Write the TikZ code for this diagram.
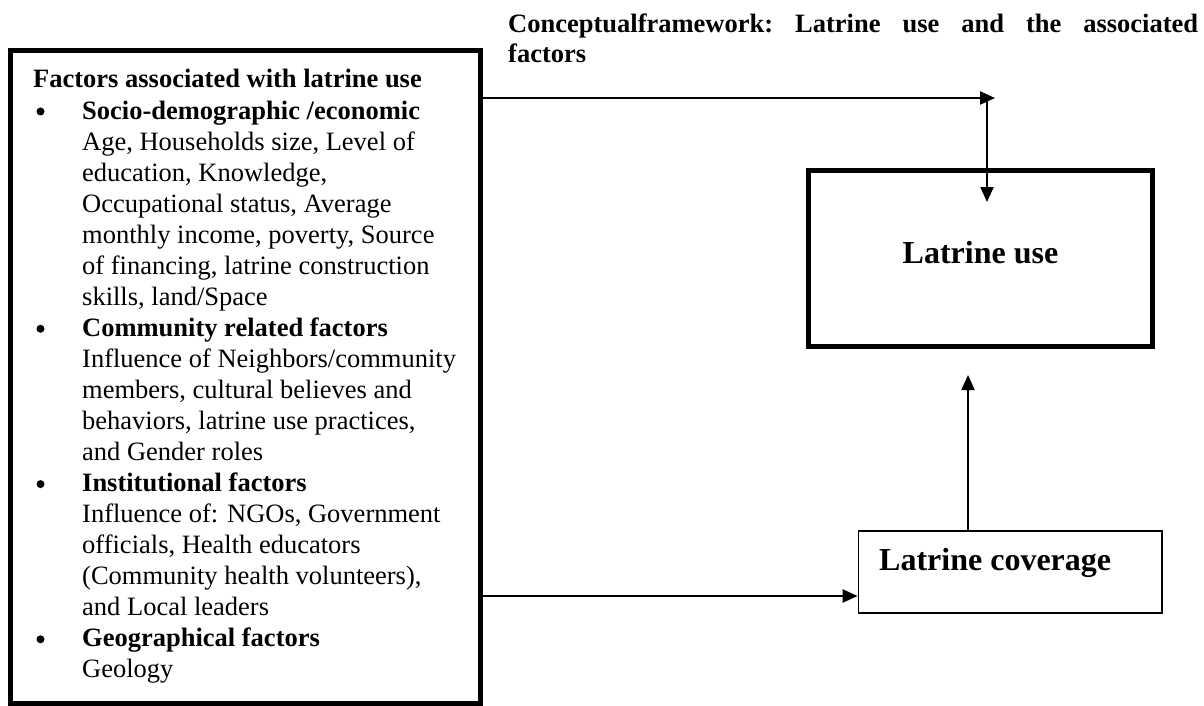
\documentclass[tikz,border=0pt]{standalone}
\usepackage{fontspec}
\setmainfont{Liberation Serif}
\usetikzlibrary{arrows.meta}
\newcommand\bulitem{\hskip49pt}
\newcommand\inditem{\hskip49pt}
\begin{document}
\begin{tikzpicture}[x=1pt,y=-1pt,
  thickbox/.style={draw=black, line width=5pt, inner sep=0pt},
  thinbox/.style={draw=black, line width=1.7pt, inner sep=0pt},
  conn/.style={draw=black, line width=2.2pt, -{Triangle[length=15pt,width=13pt]}},
  bodytext/.style={inner sep=0pt, anchor=base west},
  bulletdot/.style={fill=black},
  bigbold/.style={inner sep=0pt, font=\fontsize{32}{38}\selectfont\bfseries}]
\useasboundingbox (0,0) rectangle (1204,706);

% title
\node[bodytext] (title) at (508,33) {\vtop{\fontsize{26.5}{30}\selectfont\bfseries
  \baselineskip=30pt \lineskiplimit=-1000pt
  \hbox to 690pt{Conceptualframework:\hfill Latrine\hfill use\hfill and\hfill the\hfill associated}
  \hbox{factors}}};

% left box
\node[thickbox, minimum width=470pt, minimum height=652.5pt] (fbox) at (245.5,376.75) {};
\node[bodytext] (ftext) at (33,88) {\vtop{\fontsize{26.5}{31.05}\selectfont
  \baselineskip=31.05pt \lineskiplimit=-1000pt
  \hbox{\bfseries Factors associated with latrine use}
  \hbox{\bulitem\bfseries Socio-demographic /economic}
  \hbox{\inditem Age, Households size, Level of}
  \hbox{\inditem education, Knowledge,}
  \hbox{\inditem Occupational status, Average}
  \hbox{\inditem monthly income, poverty, Source}
  \hbox{\inditem of financing, latrine construction}
  \hbox{\inditem skills, land/Space}
  \hbox{\bulitem\bfseries Community related factors}
  \hbox{\inditem Influence of Neighbors/community}
  \hbox{\inditem members, cultural believes and}
  \hbox{\inditem behaviors, latrine use practices,}
  \hbox{\inditem and Gender roles}
  \hbox{\bulitem\bfseries Institutional factors}
  \hbox{\inditem Influence of: NGOs, Government}
  \hbox{\inditem officials, Health educators}
  \hbox{\inditem (Community health volunteers),}
  \hbox{\inditem and Local leaders}
  \hbox{\bulitem\bfseries Geographical factors}
  \hbox{\inditem Geology}}};

% bullets
\foreach \by in {111.5, 328.8, 484.1, 639.3}
  \fill[bulletdot] (40.5,\by) circle (4pt);

% latrine use box
\node[thickbox, minimum width=344pt, minimum height=176pt] (use) at (980.5,258.5) {};
\node[bigbold, anchor=base] (uselbl) at (980.5,263) {Latrine use};

% latrine coverage box
\node[thinbox, minimum width=303.5pt, minimum height=82pt] (cov) at (1010.25,572) {};
\node[bigbold, anchor=base west] (covlbl) at (879,570) {Latrine coverage};

% connectors
\coordinate (toptip) at (995,98);
\coordinate (topdrop) at (987,97);
\coordinate (usein) at (987,202);
\coordinate (uptip) at (968,375);
\coordinate (botrow) at (0,596);

\draw[conn] (fbox.east |- toptip) -- (toptip);
\draw[conn] (topdrop) -- (usein);
\draw[conn] (cov.north -| uptip) -- (uptip);
\draw[conn] (fbox.east |- botrow) -- (cov.west |- botrow);
\end{tikzpicture}
\end{document}
